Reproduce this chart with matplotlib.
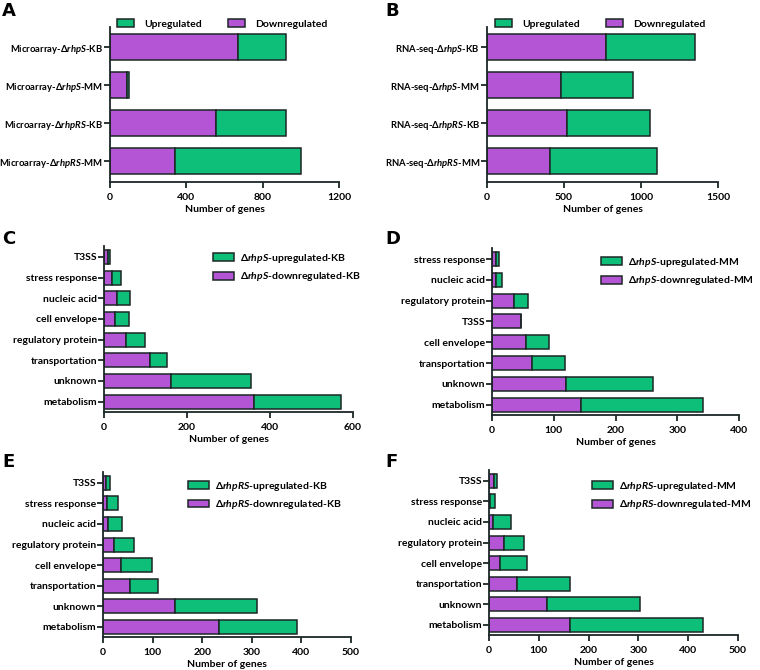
import numpy as np
import matplotlib
matplotlib.use("Agg")
import matplotlib.pyplot as plt
from matplotlib.patches import Patch

plt.rcParams['font.family'] = ['Lato', 'DejaVu Sans']
plt.rcParams['font.weight'] = 'bold'
plt.rcParams['mathtext.fontset'] = 'custom'
plt.rcParams['mathtext.it'] = 'Lato:italic:bold'
plt.rcParams['mathtext.rm'] = 'Lato:bold'

GREEN = '#0dbf78'
PURPLE = '#b455d5'
EDGE = '#1c2626'

# ---- data ----
labels_a = [r'Microarray-Δ$\it{rhpS}$-KB', r'Microarray-Δ$\it{rhpS}$-MM',
            r'Microarray-Δ$\it{rhpRS}$-KB', r'Microarray-Δ$\it{rhpRS}$-MM']
down_a = [670, 87, 556, 340]
up_a = [254, 14, 365, 659]

labels_b = [r'RNA-seq-Δ$\it{rhpS}$-KB', r'RNA-seq-Δ$\it{rhpS}$-MM',
            r'RNA-seq-Δ$\it{rhpRS}$-KB', r'RNA-seq-Δ$\it{rhpRS}$-MM']
down_b = [775, 478, 521, 406]
up_b = [575, 468, 538, 701]

cats_c = ['T3SS', 'stress response', 'nucleic acid', 'cell envelope',
          'regulatory protein', 'transportation', 'unknown', 'metabolism']
down_c = [10, 19, 32, 27, 53, 112, 162, 362]
up_c = [5, 21, 30, 34, 46, 40, 192, 208]

cats_d = ['stress response', 'nucleic acid', 'regulatory protein', 'T3SS',
          'cell envelope', 'transportation', 'unknown', 'metabolism']
down_d = [6, 6, 35, 47, 55, 65, 120, 144]
up_d = [5, 10, 24, 0, 38, 54, 141, 198]

cats_e = ['T3SS', 'stress response', 'nucleic acid', 'regulatory protein',
          'cell envelope', 'transportation', 'unknown', 'metabolism']
down_e = [7, 9, 11, 22, 37, 54, 145, 234]
up_e = [8, 21, 27, 41, 62, 57, 165, 158]

cats_f = ['T3SS', 'stress response', 'nucleic acid', 'regulatory protein',
          'cell envelope', 'transportation', 'unknown', 'metabolism']
down_f = [10, 2, 9, 30, 22, 57, 116, 163]
up_f = [6, 11, 36, 41, 55, 105, 187, 266]

fig = plt.figure(figsize=(7.6, 6.7), dpi=100)
W, H = 760.0, 670.0


def make_ax(left, right, top, bottom):
    return fig.add_axes([left / W, 1 - bottom / H, (right - left) / W, (bottom - top) / H])


def draw(ax, labels, down, up, xmax, xticks, pad_top, pad_bot, lab_fs=7.5):
    n = len(labels)
    y = np.arange(n)[::-1]
    ax.barh(y, down, height=0.68, color=PURPLE, edgecolor=EDGE, linewidth=1.1, zorder=2)
    ax.barh(y, up, left=down, height=0.68, color=GREEN, edgecolor=EDGE, linewidth=1.1, zorder=2)
    ax.set_yticks(y)
    ax.set_yticklabels(labels, fontsize=lab_fs)
    ax.set_ylim(-pad_bot, n - 1 + pad_top)
    ax.set_xlim(0, xmax)
    ax.set_xticks(xticks)
    ax.tick_params(axis='x', labelsize=7.5, width=1.3, length=4.5, color=EDGE)
    ax.tick_params(axis='y', width=1.3, length=4, pad=1, color=EDGE)
    ax.set_xlabel('Number of genes', fontsize=7.5, fontweight='bold', labelpad=2)
    for s in ['top', 'right']:
        ax.spines[s].set_visible(False)
    for s in ['left', 'bottom']:
        ax.spines[s].set_linewidth(1.3)
        ax.spines[s].set_color(EDGE)


def patches(up_label, down_label):
    return [Patch(facecolor=GREEN, edgecolor=EDGE, linewidth=1.1, label=up_label),
            Patch(facecolor=PURPLE, edgecolor=EDGE, linewidth=1.1, label=down_label)]


top_leg = dict(ncol=2, loc='center', frameon=False, fontsize=7.5, handlelength=1.6,
               handleheight=0.8, columnspacing=2.5, handletextpad=1.0)

# A
axA = make_ax(110, 339, 27, 182)
draw(axA, labels_a, down_a, up_a, 1200, [0, 400, 800, 1200], 0.53, 0.55, lab_fs=6.8)
axA.legend(handles=patches('Upregulated', 'Downregulated'),
           bbox_to_anchor=(0.49, 1.02), **top_leg)

# B
axB = make_ax(487, 718, 27, 182)
draw(axB, labels_b, down_b, up_b, 1500, [0, 500, 1000, 1500], 0.53, 0.55, lab_fs=6.8)
axB.legend(handles=patches('Upregulated', 'Downregulated'),
           bbox_to_anchor=(0.49, 1.02), **top_leg)

leg_kw = dict(loc='upper left', frameon=False, fontsize=7.5, handlelength=2.0,
              handleheight=0.8, handletextpad=0.6, labelspacing=0.5,
              borderaxespad=0, borderpad=0)

# C
axC = make_ax(104, 353, 246, 412)
draw(axC, cats_c, down_c, up_c, 600, [0, 200, 400, 600], 0.53, 0.5)
axC.legend(handles=patches(r'Δ$\it{rhpS}$-upregulated-KB', r'Δ$\it{rhpS}$-downregulated-KB'),
           bbox_to_anchor=(0.438, 0.964), **leg_kw)

# D
axD = make_ax(492, 739, 248, 415)
draw(axD, cats_d, down_d, up_d, 400, [0, 100, 200, 300, 400], 0.53, 0.5)
axD.legend(handles=patches(r'Δ$\it{rhpS}$-upregulated-MM', r'Δ$\it{rhpS}$-downregulated-MM'),
           bbox_to_anchor=(0.441, 0.952), **leg_kw)

# E
axE = make_ax(103, 351, 472, 637)
draw(axE, cats_e, down_e, up_e, 500, [0, 100, 200, 300, 400, 500], 0.53, 0.5)
axE.legend(handles=patches(r'Δ$\it{rhpRS}$-upregulated-KB', r'Δ$\it{rhpRS}$-downregulated-KB'),
           bbox_to_anchor=(0.343, 0.952), **leg_kw)

# F
axF = make_ax(489, 738, 470, 635)
draw(axF, cats_f, down_f, up_f, 500, [0, 100, 200, 300, 400, 500], 0.53, 0.5)
axF.legend(handles=patches(r'Δ$\it{rhpRS}$-upregulated-MM', r'Δ$\it{rhpRS}$-downregulated-MM'),
           bbox_to_anchor=(0.414, 0.939), **leg_kw)

# panel letters
for letter, (px, py) in zip('ABCDEF', [(2, 2), (385, 2), (2, 230), (385, 230), (2, 453), (385, 453)]):
    fig.text(px / W, 1 - py / H, letter, fontsize=13, fontweight='heavy', va='top', ha='left',
             family=['DejaVu Sans'])

fig.savefig('out.png', dpi=100)
